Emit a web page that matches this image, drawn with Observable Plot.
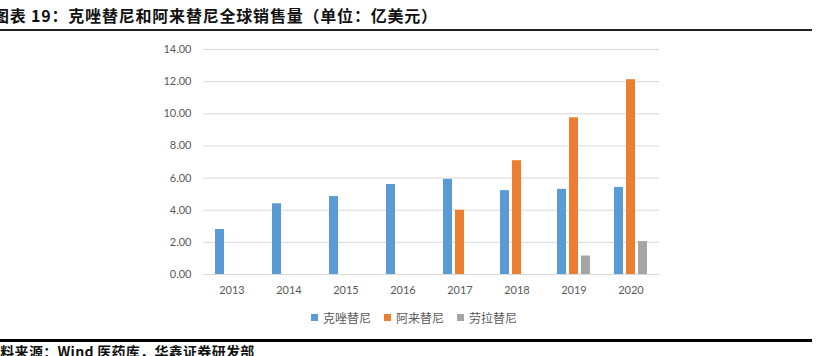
<!DOCTYPE html>
<html>
<head>
<meta charset="utf-8">
<script src="https://cdn.jsdelivr.net/npm/d3@7"></script>
<script src="https://cdn.jsdelivr.net/npm/@observablehq/plot@0.6"></script>
<style>
  html, body { margin: 0; padding: 0; background: #fff; }
  #wrap { position: relative; width: 816px; height: 356px; overflow: hidden; }
  #title { position: absolute; left: -7px; top: 3px; width: 819px; height: 26px; font-family: "Noto Sans CJK SC", sans-serif; font-weight: 700; font-size: 16px; line-height: 24px; letter-spacing: 0.8px; color: #111; white-space: nowrap; border-bottom: 2px solid #222; }
  #chart { position: absolute; left: 0; top: 32px; }
  #legend { position: absolute; left: 311px; top: 309px; display: flex; align-items: center; font-family: "Noto Sans CJK SC", sans-serif; font-size: 12px; color: #595959; white-space: nowrap; }
  #legend .item { display: flex; align-items: center; margin-right: 13px; }
  #legend .sw { width: 7px; height: 7px; margin-right: 5px; }
  #caption { position: absolute; left: -14px; top: 339px; width: 826px; border-top: 3px solid #000; font-family: "Noto Sans CJK SC", sans-serif; font-weight: 700; font-size: 14px; line-height: 18px; letter-spacing: 0.3px; color: #111; white-space: nowrap; }
</style>
</head>
<body>
<div id="wrap">
  <div id="title">图表 19：克唑替尼和阿来替尼全球销售量（单位：亿美元）</div>
  <div id="chart"></div>
  <div id="legend"></div>
  <div id="caption">资料来源：Wind 医药库，华鑫证券研发部</div>
</div>
<script>
const years = ["2013", "2014", "2015", "2016", "2017", "2018", "2019", "2020"];
const seriesNames = ["克唑替尼", "阿来替尼", "劳拉替尼"];
const colors = ["#5B9BD5", "#ED7D31", "#A5A5A5"];
const crizotinib = [2.80, 4.40, 4.85, 5.60, 5.92, 5.22, 5.30, 5.42];
const alectinib = [null, null, null, null, 4.00, 7.08, 9.75, 12.12];
const lorlatinib = [null, null, null, null, null, null, 1.15, 2.05];
const yTicks = [0, 2, 4, 6, 8, 10, 12, 14];

const seriesValues = [crizotinib, alectinib, lorlatinib];
const data = [];
years.forEach((yr, i) => {
  seriesNames.forEach((s, j) => {
    const v = seriesValues[j][i];
    if (v != null) data.push({year: yr, series: s, value: v});
  });
});

const chart = Plot.plot({
  width: 816,
  height: 270,
  marginLeft: 199,
  marginRight: 154,
  marginTop: 17,
  marginBottom: 28,
  style: {fontFamily: "Lato, sans-serif", fontSize: "11px", color: "#595959", background: "#fff"},
  fx: {domain: years, padding: 0, label: null, axis: null},
  x: {domain: seriesNames, paddingInner: 0.22, paddingOuter: 0.87, axis: null},
  y: {domain: [0, 14], ticks: yTicks, label: null},
  color: {domain: seriesNames, range: colors},
  marks: [
    Plot.gridY(yTicks, {stroke: "#d9d9d9", strokeOpacity: 1, strokeWidth: 1}),
    Plot.axisY(yTicks, {tickSize: 0, tickPadding: 12, tickFormat: d3.format(".2f"), label: null, fill: "#595959", fontSize: 11}),
    Plot.axisFx({anchor: "bottom", tickSize: 0, tickPadding: 12, label: null, fill: "#595959", fontSize: 11}),
    Plot.barY(data, {fx: "year", x: "series", y: "value", fill: "series"})
  ]
});
document.getElementById("chart").appendChild(chart);

const legend = document.getElementById("legend");
seriesNames.forEach((s, i) => {
  const item = document.createElement("div");
  item.className = "item";
  const sw = document.createElement("span");
  sw.className = "sw";
  sw.style.background = colors[i];
  const t = document.createElement("span");
  t.textContent = s;
  item.appendChild(sw);
  item.appendChild(t);
  legend.appendChild(item);
});
</script>
</body>
</html>
